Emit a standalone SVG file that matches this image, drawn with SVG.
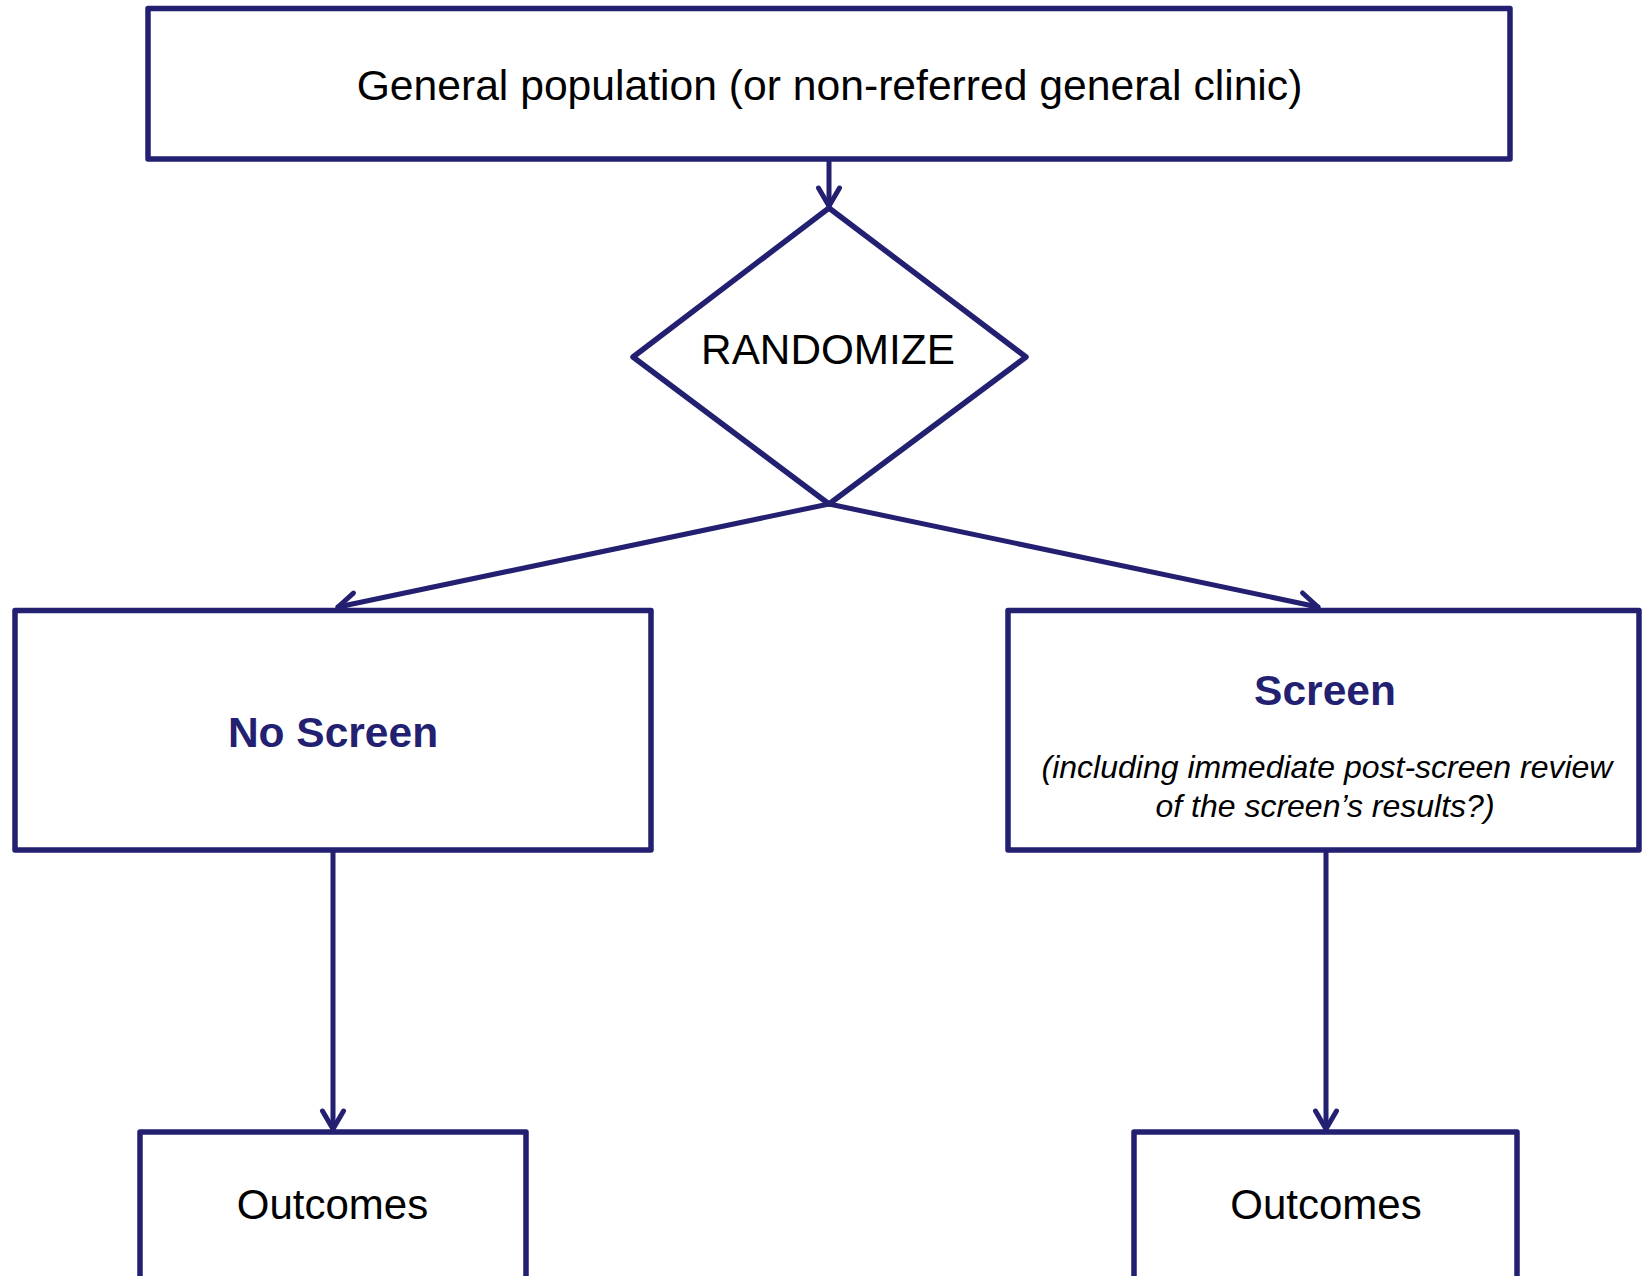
<svg xmlns="http://www.w3.org/2000/svg" width="1642" height="1276" viewBox="0 0 1642 1276">
  <style>
    .box { fill: #ffffff; stroke: #231f71; stroke-width: 5.5; stroke-linejoin: round; }
    .link { fill: none; stroke: #231f71; stroke-width: 5; stroke-linecap: round; }
    .label { font-family: "Liberation Sans", Arial, sans-serif; font-size: 42px; fill: #000000; text-anchor: middle; }
    .arm { font-family: "Liberation Sans", Arial, sans-serif; font-size: 42.5px; font-weight: bold; fill: #231f71; text-anchor: middle; }
    .note { font-family: "Liberation Sans", Arial, sans-serif; font-size: 32px; font-style: italic; fill: #000000; text-anchor: middle; }
  </style>
  <defs>
    <marker id="chevron" markerUnits="userSpaceOnUse" markerWidth="30" markerHeight="30" viewBox="-22 -15 26 30" refX="0" refY="0" orient="auto">
      <path d="M -18 -10.5 L 0 0 L -18 10.5" fill="none" stroke="#231f71" stroke-width="5" stroke-linecap="round" stroke-linejoin="round"/>
    </marker>
  </defs>
  <rect width="1642" height="1276" fill="#ffffff"/>

  <g id="connectors">
    <line class="link" x1="829" y1="159" x2="829" y2="206" marker-end="url(#chevron)"/>
    <line class="link" x1="829" y1="504" x2="338" y2="607" marker-end="url(#chevron)"/>
    <line class="link" x1="829" y1="504" x2="1318" y2="607" marker-end="url(#chevron)"/>
    <line class="link" x1="333" y1="850" x2="333" y2="1129" marker-end="url(#chevron)"/>
    <line class="link" x1="1326" y1="850" x2="1326" y2="1129" marker-end="url(#chevron)"/>
  </g>

  <g id="population">
    <rect class="box" x="148" y="8.5" width="1362" height="150.5"/>
    <text class="label" x="829.5" y="100" style="font-size:42.65px">General population (or non-referred general clinic)</text>
  </g>

  <g id="randomize">
    <polygon class="box" points="829,208 1026,357 829,504 633,357"/>
    <text class="label" x="828" y="364" style="font-size:42.3px">RANDOMIZE</text>
  </g>

  <g id="no-screen">
    <rect class="box" x="15" y="610.5" width="636" height="239.5"/>
    <text class="arm" x="333" y="746.5">No Screen</text>
  </g>

  <g id="screen">
    <rect class="box" x="1008" y="610.5" width="631" height="239.5"/>
    <text class="arm" x="1325" y="705">Screen</text>
    <text class="note" x="1327" y="778">(including immediate post-screen review</text>
    <text class="note" x="1325" y="816.5">of the screen’s results?)</text>
  </g>

  <g id="outcomes-no-screen">
    <rect class="box" x="140" y="1132" width="386" height="170"/>
    <text class="label" x="332.5" y="1219">Outcomes</text>
  </g>

  <g id="outcomes-screen">
    <rect class="box" x="1134" y="1132" width="383" height="170"/>
    <text class="label" x="1326" y="1219">Outcomes</text>
  </g>
</svg>
